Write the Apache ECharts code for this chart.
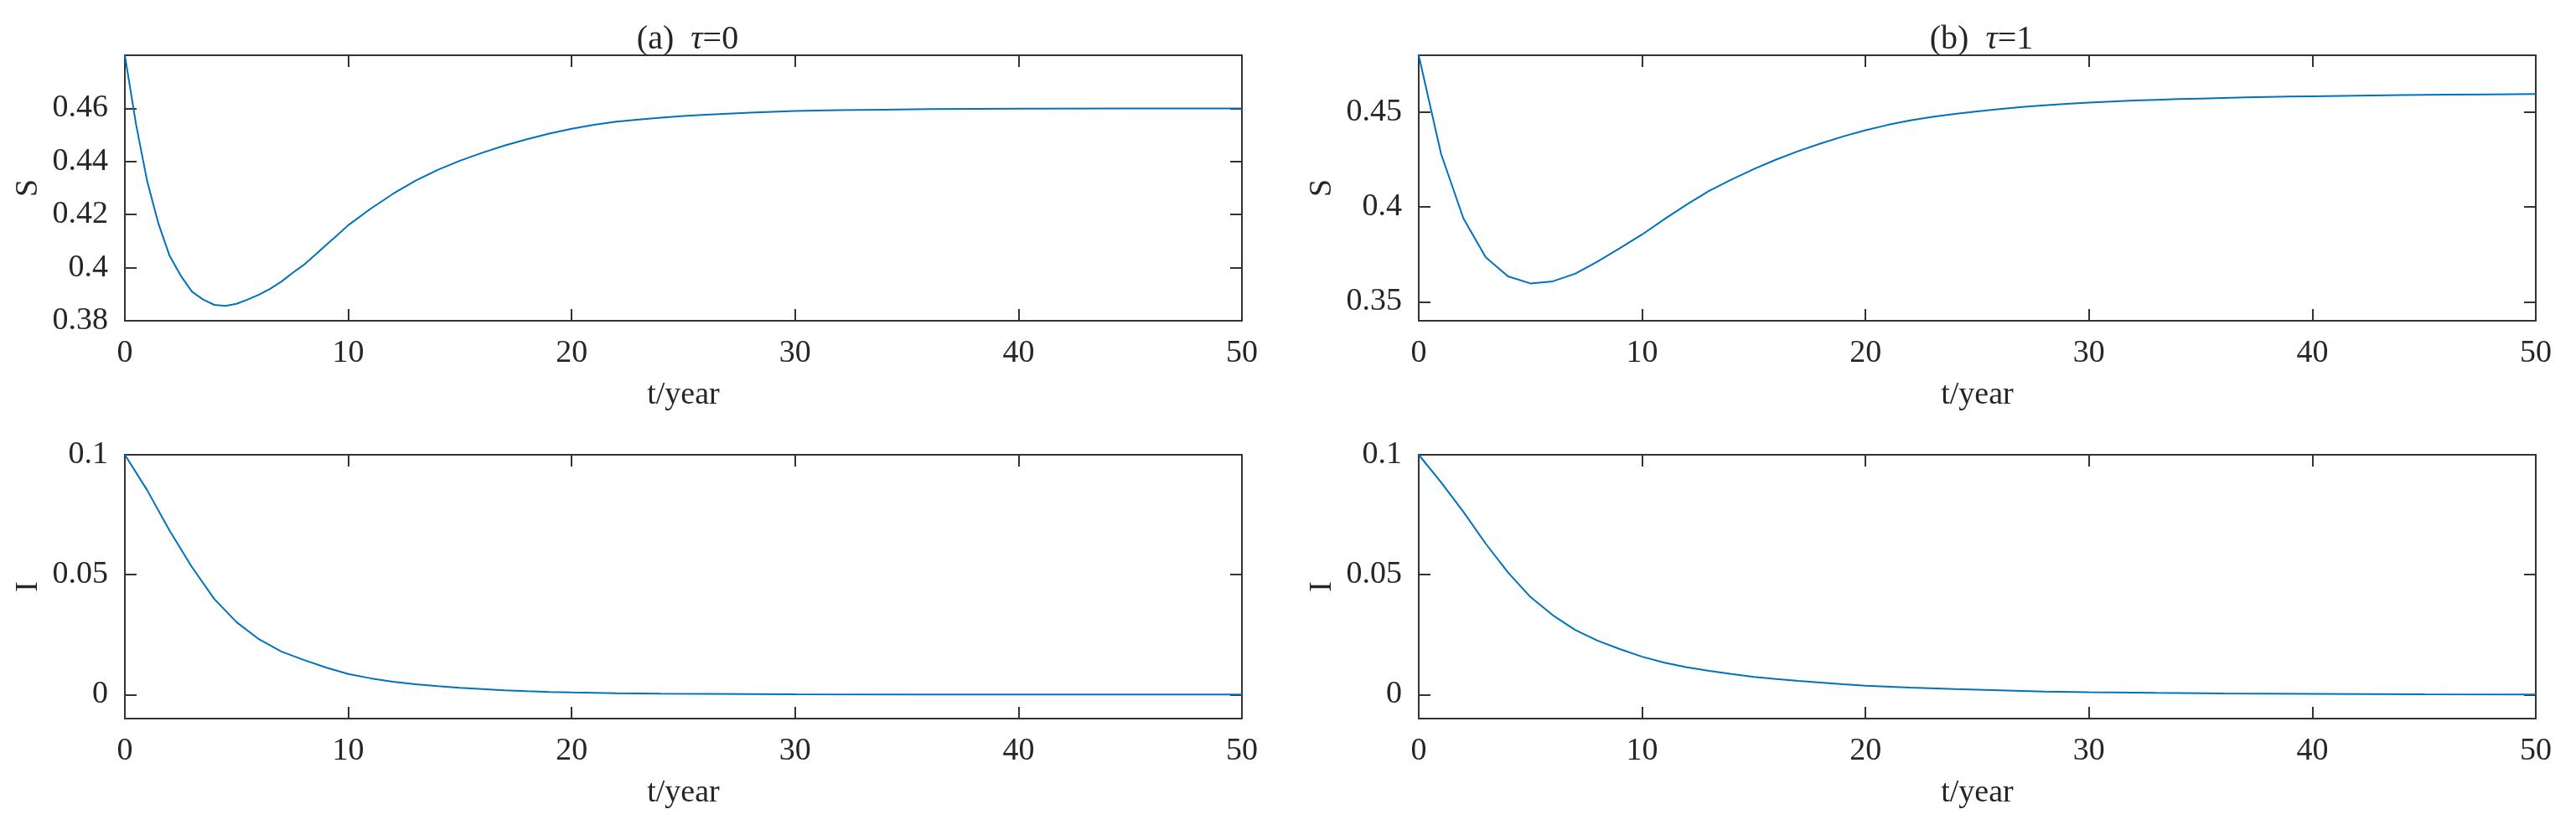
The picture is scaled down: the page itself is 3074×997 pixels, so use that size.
<!DOCTYPE html>
<html>
<head>
<meta charset="utf-8">
<script src="https://cdn.jsdelivr.net/npm/echarts@6/dist/echarts.min.js"></script>
<style>
html,body{margin:0;padding:0;background:#fff;}
#c{width:3074px;height:997px;}
</style>
</head>
<body>
<div id="c"></div>
<script>
// ---------- data ----------
const titles = ['(a)  ', '(b)  '];
const tauValues = ['0', '1'];
const xTicks = [0, 10, 20, 30, 40, 50];

// (a) tau = 0, S(t)
const tSa = [0,0.5,1,1.5,2,2.5,3,3.5,4,4.5,5,5.5,6,6.5,7,7.5,8,8.5,9,9.5,10,11,12,13,14,15,16,17,18,19,20,21,22,23,24,25,26,27,28,29,30,32,34,36,38,40,45,50];
const Sa  = [0.480,0.454,0.4325,0.4167,0.4045,0.397,0.391,0.388,0.386,0.3856,0.3864,0.388,0.3898,0.392,0.3947,0.398,0.401,0.4047,0.4085,0.4122,0.4160,0.4222,0.4278,0.4327,0.4368,0.4403,0.4433,0.4460,0.4484,0.4505,0.4523,0.4538,0.4550,0.4558,0.4565,0.4571,0.4576,0.4580,0.4584,0.4587,0.4590,0.4593,0.4595,0.4597,0.4598,0.4599,0.4600,0.4600];
// (a) tau = 0, I(t)
const tIa = [0,1,2,3,4,5,6,7,8,9,10,11,12,13,14,15,16,17,18,19,20,22,24,26,28,30,35,40,50];
const Ia  = [0.100,0.0852,0.0684,0.0532,0.0399,0.0302,0.0231,0.0180,0.0145,0.0113,0.0086,0.0068,0.0054,0.0043,0.0035,0.0028,0.0023,0.0018,0.0014,0.0011,0.0009,0.0006,0.0004,0.0003,0.0002,0.0001,0.00005,0.00002,0.0];

// (b) tau = 1, S(t)
const tSb = [0,1,2,3,4,5,6,7,8,9,10,11,12,13,14,15,16,17,18,19,20,21,22,23,24,25,26,27,28,29,30,31,32,33,34,35,36,37,38,39,40,42,44,46,48,50];
const Sb  = [0.480,0.428,0.394,0.3735,0.3634,0.3597,0.3608,0.3648,0.3712,0.3783,0.3855,0.3936,0.4013,0.4085,0.4145,0.4200,0.4250,0.4295,0.4335,0.4372,0.4405,0.4433,0.4457,0.4475,0.4491,0.4504,0.4516,0.4527,0.4536,0.4544,0.4550,0.4556,0.4561,0.4565,0.4569,0.4572,0.4575,0.4578,0.4580,0.4582,0.4584,0.4587,0.4590,0.4592,0.4594,0.4596];
// (b) tau = 1, I(t)
const tIb = [0,1,2,3,4,5,6,7,8,9,10,11,12,13,14,15,16,17,18,19,20,22,24,26,28,30,33,36,40,45,50];
const Ib  = [0.100,0.0885,0.0762,0.0629,0.0509,0.0407,0.0331,0.0270,0.0225,0.0190,0.0158,0.0133,0.0114,0.0099,0.0086,0.0074,0.0065,0.0057,0.0050,0.0043,0.0037,0.0029,0.0023,0.0018,0.0013,0.0010,0.0007,0.0005,0.0003,0.0001,0.00005];

const yTicksSa = [0.38, 0.40, 0.42, 0.44, 0.46];
const yTicksSb = [0.35, 0.40, 0.45];
const yTicksI  = [0, 0.05, 0.1];
const yRangeSa = [0.38, 0.48];
const yRangeSb = [0.34, 0.48];
const yRangeI  = [-0.01, 0.1];
const yNames = ['S', 'I'];
const xName = 't/year';

// ---------- chart ----------
const FONT = "'Liberation Serif','Times New Roman',serif";
const TXT = '#262626';
const AX = '#333333';
const LINE = '#0072BD';
const FS = 38;

const grids = [
  {left:149,  top:66,  width:1333, height:317},
  {left:1693, top:66,  width:1333, height:317},
  {left:149,  top:543, width:1333, height:315},
  {left:1693, top:543, width:1333, height:315}
];
const panelData = [
  {t:tSa, v:Sa, range:yRangeSa, ticks:yTicksSa, name:yNames[0]},
  {t:tSb, v:Sb, range:yRangeSb, ticks:yTicksSb, name:yNames[0]},
  {t:tIa, v:Ia, range:yRangeI,  ticks:yTicksI,  name:yNames[1]},
  {t:tIb, v:Ib, range:yRangeI,  ticks:yTicksI,  name:yNames[1]}
];

const xAxes = [], yAxes = [], series = [];
panelData.forEach((p, g) => {
  const lineStyle = {color: AX, width: 2};
  [false, true].forEach(mirror => {
    xAxes.push({
      type: 'value', gridIndex: g, min: 0, max: 50, interval: 10,
      position: mirror ? 'top' : 'bottom',
      name: mirror ? '' : xName, nameLocation: 'middle', nameGap: 70,
      nameTextStyle: {fontFamily: FONT, fontSize: FS, color: TXT},
      axisLine: {show: true, onZero: false, lineStyle},
      axisTick: {show: true, inside: true, length: 14, lineStyle},
      axisLabel: {show: !mirror, margin: 20, fontFamily: FONT, fontSize: FS, color: TXT,
                  customValues: xTicks},
      splitLine: {show: false}
    });
    yAxes.push({
      type: 'value', gridIndex: g, min: p.range[0], max: p.range[1],
      position: mirror ? 'right' : 'left',
      name: mirror ? '' : p.name, nameLocation: 'middle', nameGap: 96,
      nameTextStyle: {fontFamily: FONT, fontSize: FS, color: TXT},
      axisLine: {show: true, onZero: false, lineStyle},
      axisTick: {show: true, inside: true, length: 14, lineStyle, customValues: p.ticks},
      axisLabel: {show: !mirror, margin: 20, fontFamily: FONT, fontSize: FS, color: TXT,
                  customValues: p.ticks,
                  formatter: v => String(parseFloat(v.toFixed(4)))},
      splitLine: {show: false}
    });
  });
  series.push({
    type: 'line', xAxisIndex: 2*g, yAxisIndex: 2*g,
    data: p.t.map((x, i) => [x, p.v[i]]),
    showSymbol: false, smooth: false, clip: true,
    lineStyle: {color: LINE, width: 2}
  });
});

const title = [0, 1].map(i => ({
  text: titles[i] + '{i|τ}=' + tauValues[i],
  left: grids[i].left + grids[i].width / 2,
  top: 22,
  textAlign: 'center',
  textStyle: {
    fontFamily: FONT, fontSize: 40, color: TXT, fontWeight: 'normal',
    rich: {i: {fontFamily: FONT, fontSize: 40, fontStyle: 'italic', color: TXT}}
  }
}));

const chart = echarts.init(document.getElementById('c'), null, {renderer: 'canvas'});
chart.setOption({
  animation: false,
  backgroundColor: '#ffffff',
  title,
  grid: grids,
  xAxis: xAxes,
  yAxis: yAxes,
  series
});
</script>
</body>
</html>
